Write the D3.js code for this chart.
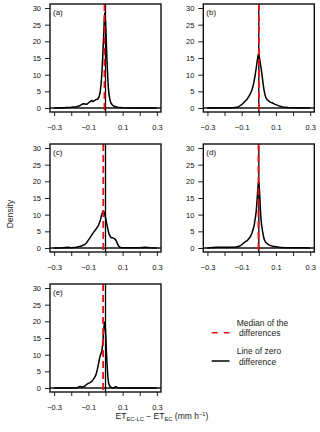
<!DOCTYPE html>
<html>
<head>
<meta charset="utf-8">
<script src="https://cdn.jsdelivr.net/npm/d3@7"></script>
<style>
  body { margin: 0; background: #fff; }
  svg { display: block; font-family: "Liberation Sans", Arial, sans-serif; }
</style>
</head>
<body>
<div id="chart"></div>
<script>
// density curves (x in mm h-1, y = density)
const xA = [-0.30, -0.25, -0.20, -0.17, -0.15, -0.14, -0.13, -0.12, -0.11, -0.10, -0.09, -0.08, -0.075, -0.065, -0.055, -0.045, -0.038, -0.032, -0.026, -0.021, -0.016, -0.012, -0.008, -0.004, 0.0, 0.004, 0.008, 0.012, 0.016, 0.02, 0.026, 0.032, 0.04, 0.05, 0.07, 0.1, 0.15, 0.2, 0.3];
const yA = [0, 0.1, 0.2, 0.4, 0.7, 1.0, 1.3, 1.2, 1.1, 1.5, 1.9, 2.3, 1.9, 2.2, 2.5, 2.7, 3.3, 4.5, 7.0, 10.5, 15.5, 20.5, 25.5, 28.5, 26, 21, 15, 10.5, 6.5, 4.2, 2.5, 1.5, 0.9, 0.5, 0.2, 0.05, 0.03, 0, 0];

const xB = [-0.30, -0.25, -0.20, -0.15, -0.12, -0.10, -0.08, -0.066, -0.05, -0.04, -0.03, -0.022, -0.015, -0.008, -0.003, 0.0, 0.004, 0.01, 0.016, 0.022, 0.028, 0.035, 0.042, 0.05, 0.06, 0.07, 0.08, 0.095, 0.11, 0.125, 0.14, 0.17, 0.2, 0.25, 0.3];
const yB = [0, 0.05, 0.1, 0.1, 0.3, 1.0, 2.0, 2.8, 4.2, 5.4, 7.4, 9.6, 12.0, 14.5, 16.0, 16.3, 15.0, 13.0, 11.0, 8.6, 6.2, 4.2, 3.0, 2.5, 2.0, 1.7, 1.5, 1.1, 0.8, 0.5, 0.3, 0.15, 0.1, 0.05, 0];

const xC = [-0.30, -0.25, -0.22, -0.20, -0.17, -0.14, -0.12, -0.11, -0.094, -0.074, -0.055, -0.041, -0.031, -0.021, -0.014, -0.009, -0.004, 0.002, 0.008, 0.014, 0.02, 0.026, 0.032, 0.04, 0.05, 0.057, 0.063, 0.07, 0.077, 0.085, 0.095, 0.12, 0.2, 0.23, 0.26, 0.3];
const yC = [0, 0.05, 0.2, 0.1, 0.2, 0.6, 1.1, 1.6, 2.8, 4.4, 5.7, 6.8, 8.2, 10.2, 11.0, 10.9, 10.0, 8.7, 7.1, 5.6, 4.3, 3.6, 3.1, 3.1, 2.9, 2.6, 2.1, 1.2, 0.6, 0.2, 0.05, 0.05, 0.05, 0.2, 0.05, 0];

const xD = [-0.30, -0.25, -0.20, -0.16, -0.135, -0.115, -0.105, -0.095, -0.086, -0.075, -0.066, -0.056, -0.047, -0.04, -0.033, -0.027, -0.023, -0.019, -0.015, -0.012, -0.009, -0.006, -0.003, 0.0, 0.003, 0.006, 0.009, 0.012, 0.016, 0.022, 0.027, 0.032, 0.04, 0.051, 0.065, 0.081, 0.1, 0.12, 0.15, 0.2, 0.25, 0.3];
const yD = [0, 0.2, 0.2, 0.25, 0.3, 0.5, 0.8, 1.2, 1.6, 2.0, 2.3, 2.9, 3.6, 4.5, 5.6, 6.8, 8.1, 9.5, 11.1, 13.0, 15.2, 17.5, 19.5, 19.8, 18.0, 15.2, 12.0, 9.1, 7.0, 5.0, 3.6, 2.5, 1.7, 1.2, 0.8, 0.5, 0.35, 0.2, 0.1, 0.05, 0.1, 0];

const xE = [-0.30, -0.20, -0.17, -0.155, -0.149, -0.14, -0.13, -0.12, -0.11, -0.10, -0.09, -0.08, -0.071, -0.063, -0.055, -0.048, -0.041, -0.036, -0.031, -0.026, -0.021, -0.018, -0.015, -0.012, -0.009, -0.006, -0.003, 0.0, 0.002, 0.005, 0.008, 0.011, 0.014, 0.018, 0.024, 0.035, 0.05, 0.06, 0.07, 0.1, 0.2, 0.3];
const yE = [0, 0.02, 0.1, 0.3, 0.5, 0.3, 0.3, 0.6, 1.1, 1.4, 1.6, 2.0, 2.6, 3.2, 4.1, 5.5, 7.2, 8.6, 9.7, 10.3, 11.2, 12.5, 14.2, 16.3, 18.3, 19.8, 19.5, 17.5, 15.2, 11.5, 8.2, 5.5, 3.1, 1.5, 0.6, 0.1, 0.1, 0.4, 0.1, 0, 0, 0];

const panelLabels = ["(a)", "(b)", "(c)", "(d)", "(e)"];
const medians = [-0.006, 0.0005, -0.013, -0.002, -0.014];
const xTicks = [-0.3, -0.2, -0.1, 0, 0.1, 0.2, 0.3];
const yTicks = [0, 5, 10, 15, 20, 25, 30];
const legendLabels = [["Median of the", "differences"], ["Line of zero", "difference"]];

const curves = [[xA, yA], [xB, yB], [xC, yC], [xD, yD], [xE, yE]];

const width = 320, height = 432;
const boxW = 111, boxH = 108;
const colLeft = [50, 203.3];
const rowTop = [4, 144, 284];
const RED = "#f01010";

const svg = d3.select("#chart").append("svg")
  .attr("width", width)
  .attr("height", height);

svg.append("rect").attr("width", width).attr("height", height).attr("fill", "#fff");

curves.forEach((c, i) => {
  const left = colLeft[i % 2];
  const top = rowTop[Math.floor(i / 2)];

  const x = d3.scaleLinear().domain([-0.324, 0.324]).range([0, boxW]);
  const y = d3.scaleLinear().domain([-1.2, 31.2]).range([boxH, 0]);

  const g = svg.append("g").attr("transform", `translate(${left},${top})`);

  // axes
  const xAxis = d3.axisBottom(x)
    .tickValues(xTicks)
    .tickSize(4)
    .tickPadding(9)
    .tickFormat(d => (Math.round(d * 10) % 2 !== 0 ? d3.format(".1f")(d) : ""));
  const xg = g.append("g").attr("transform", `translate(0,${boxH})`).call(xAxis);

  const yAxis = d3.axisLeft(y)
    .tickValues(yTicks)
    .tickSize(5)
    .tickPadding(4);
  const yg = g.append("g").call(yAxis);

  [xg, yg].forEach(a => {
    a.select(".domain").remove();
    a.selectAll("line").attr("stroke", "#222").attr("stroke-width", 1);
    a.selectAll("text").attr("fill", "#111").style("font-size", "7.5px").style("font-family", "Liberation Sans, Arial, sans-serif");
  });
  yg.selectAll("text").attr("dy", "0.35em");

  // zero lines
  g.append("line")
    .attr("x1", 0).attr("x2", boxW)
    .attr("y1", y(0)).attr("y2", y(0))
    .attr("stroke", "#111").attr("stroke-width", 1.3);

  // density curve
  const pts = c[0].map((v, k) => [v, c[1][k]]);
  g.append("path")
    .datum(pts)
    .attr("fill", "none")
    .attr("stroke", "#000")
    .attr("stroke-width", 1.5)
    .attr("stroke-linejoin", "round")
    .attr("d", d3.line().x(d => x(d[0])).y(d => y(d[1])));

  g.append("line")
    .attr("x1", x(0)).attr("x2", x(0))
    .attr("y1", 0).attr("y2", boxH)
    .attr("stroke", "#000").attr("stroke-width", 1.3);

  // median of the differences
  g.append("line")
    .attr("x1", x(medians[i])).attr("x2", x(medians[i]))
    .attr("y1", 0).attr("y2", boxH)
    .attr("stroke", RED).attr("stroke-width", 1.8)
    .attr("stroke-dasharray", "7,4");

  // box
  g.append("rect")
    .attr("width", boxW).attr("height", boxH)
    .attr("fill", "none").attr("stroke", "#111").attr("stroke-width", 1.4);

  g.append("text")
    .attr("x", 3).attr("y", 10.5)
    .style("font-size", "8px")
    .attr("fill", "#111")
    .text(panelLabels[i]);
});

// y title
svg.append("text")
  .attr("transform", "translate(10,214) rotate(-90)")
  .attr("text-anchor", "middle")
  .attr("dy", "0.35em")
  .style("font-size", "8.5px")
  .attr("fill", "#222")
  .text("Density");

// x title with sub/superscripts
const xt = svg.append("text")
  .attr("x", 162).attr("y", 419)
  .attr("text-anchor", "middle")
  .style("font-size", "8.5px")
  .attr("fill", "#222");
xt.append("tspan").text("ET");
xt.append("tspan").attr("dy", 2).style("font-size", "5.8px").text("EC-LC");
xt.append("tspan").attr("dy", -2).text(" \u2212 ET");
xt.append("tspan").attr("dy", 2).style("font-size", "5.8px").text("EC");
xt.append("tspan").attr("dy", -2).text(" (mm h");
xt.append("tspan").attr("dy", -3).style("font-size", "5.8px").text("\u22121");
xt.append("tspan").attr("dy", 3).text(")");

// legend
const legend = svg.append("g");
const legendY = [332.7, 361];
legendY.forEach((ly, i) => {
  legend.append("line")
    .attr("x1", 211.7).attr("x2", 229.5)
    .attr("y1", ly).attr("y2", ly)
    .attr("stroke", i === 0 ? RED : "#000")
    .attr("stroke-width", i === 0 ? 1.6 : 1.5)
    .attr("stroke-dasharray", i === 0 ? "6,6" : null);
  legendLabels[i].forEach((t, j) => {
    legend.append("text")
      .attr("x", j === 0 ? 236.7 : 239)
      .attr("y", ly - 10 + j * 10.6)
      .attr("dy", "0.35em")
      .style("font-size", "8.5px")
      .attr("fill", "#222")
      .text(t);
  });
});
</script>
</body>
</html>
